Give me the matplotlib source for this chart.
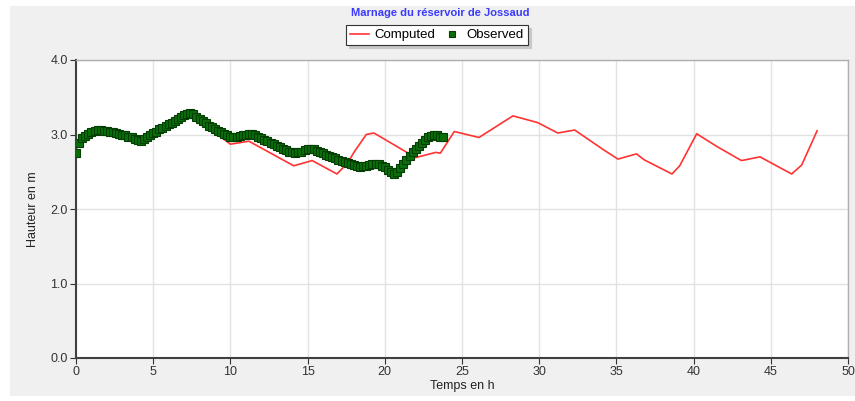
# Marnage du reservoir de Jossaud - computed vs observed water level

import numpy as np
import matplotlib.pyplot as plt
from matplotlib.patches import Rectangle
from matplotlib.ticker import FormatStrFormatter

plt.rcParams['font.family'] = ['Liberation Sans Narrow', 'Liberation Sans', 'DejaVu Sans']

# Computed water level (h) at time (h)
t_comp = [0.0, 0.4, 1.3, 4.15, 5.3, 7.3, 10.0, 11.2, 14.1, 15.3, 16.9, 17.6,
          18.0, 18.8, 19.3, 22.0, 23.3, 23.6, 24.5, 26.1, 28.3, 29.9, 31.2,
          32.3, 34.2, 35.1, 36.3, 36.8, 38.6, 39.1, 40.2, 41.5, 43.1, 44.3,
          46.35, 47.0, 48.0]
h_comp = [2.80, 2.96, 3.06, 2.92, 3.08, 3.29, 2.87, 2.91, 2.58, 2.65, 2.47, 2.62,
          2.76, 3.00, 3.02, 2.69, 2.76, 2.75, 3.04, 2.96, 3.25, 3.16, 3.02,
          3.06, 2.79, 2.67, 2.74, 2.66, 2.47, 2.58, 3.01, 2.84, 2.65, 2.70,
          2.47, 2.59, 3.05]

# Observed water level, one reading every 0.2 h from t = 0
dt_obs = 0.2
h_obs = [2.75, 2.88, 2.95, 2.98, 3.01, 3.03, 3.05, 3.06, 3.06, 3.05,
         3.05, 3.04, 3.03, 3.02, 3.01, 3.00, 2.99, 2.97, 2.96, 2.94,
         2.92, 2.91, 2.94, 2.96, 2.99, 3.02, 3.04, 3.07, 3.09, 3.12,
         3.14, 3.16, 3.18, 3.21, 3.24, 3.26, 3.28, 3.29, 3.27, 3.24,
         3.21, 3.18, 3.15, 3.12, 3.10, 3.07, 3.05, 3.03, 3.01, 2.99,
         2.97, 2.96, 2.97, 2.98, 2.99, 3.00, 3.01, 3.01, 2.99, 2.97,
         2.95, 2.93, 2.91, 2.89, 2.87, 2.85, 2.83, 2.81, 2.79, 2.77,
         2.76, 2.75, 2.76, 2.77, 2.79, 2.80, 2.81, 2.80, 2.78, 2.76,
         2.75, 2.73, 2.71, 2.70, 2.68, 2.66, 2.65, 2.63, 2.62, 2.60,
         2.59, 2.58, 2.57, 2.58, 2.58, 2.59, 2.60, 2.61, 2.60, 2.58,
         2.56, 2.53, 2.50, 2.47, 2.49, 2.55, 2.61, 2.66, 2.71, 2.76,
         2.81, 2.85, 2.89, 2.93, 2.96, 2.98, 2.99, 2.99, 2.97, 2.96]
t_obs = np.arange(len(h_obs)) * dt_obs

x_ticks = np.arange(0, 51, 5)
y_ticks = np.arange(0, 4.1, 1.0)

fig = plt.figure(figsize=(8.55, 4.01), dpi=100)
fig.patch.set_facecolor('white')
fig.patches.append(Rectangle((10 / 855, 5 / 401), 845 / 855, 390 / 401,
                             transform=fig.transFigure, facecolor='#f0f0f0',
                             edgecolor='none', zorder=-10))

ax = fig.add_axes([76 / 855, 43 / 401, 772 / 855, 298 / 401])
ax.set_facecolor('white')

ax.plot(t_comp, h_comp, color='#ff3333', lw=1.2, label='Computed', zorder=2)
ax.plot(t_obs, h_obs, ls='none', marker='s', ms=5.2, mfc='#0a6e0a',
        mec='#043d04', mew=0.8, label='Observed', zorder=3)

ax.set_xlim(0, 50)
ax.set_ylim(0, 4)
ax.set_xticks(x_ticks)
ax.set_yticks(y_ticks)
ax.yaxis.set_major_formatter(FormatStrFormatter('%.1f'))
ax.grid(True, color='#e2e2e2', lw=1.0)
ax.set_axisbelow(True)
ax.tick_params(direction='out', length=4, width=0.8, colors='#333333',
               labelsize=9, pad=2)

for side in ['left', 'bottom']:
    ax.spines[side].set_color('#404040')
    ax.spines[side].set_linewidth(1.5)
for side in ['top', 'right']:
    ax.spines[side].set_color('#b0b0b0')
    ax.spines[side].set_linewidth(1.0)

ax.set_xlabel('Temps en h', fontsize=9, color='#222222', labelpad=1)
ax.set_ylabel('Hauteur en m', fontsize=9, color='#222222', labelpad=8)

fig.text(440 / 855, 1 - 13 / 401, 'Marnage du réservoir de Jossaud',
         ha='center', va='center', fontsize=8, fontweight='bold',
         color='#3a3aff')

leg = fig.legend(loc='center', bbox_to_anchor=(437 / 855, 1 - 35 / 401),
                 ncol=2, frameon=True, fancybox=False,
                 shadow={'color': '#c8c8c8', 'alpha': 1.0},
                 edgecolor='#333333', handlelength=1.4, markerscale=0.75,
                 handletextpad=0.4, columnspacing=0.6, borderpad=0.3,
                 prop={'family': ['Liberation Sans', 'DejaVu Sans'], 'size': 9.5})
leg.get_frame().set_linewidth(0.8)

fig.savefig('out.png', dpi=100)
